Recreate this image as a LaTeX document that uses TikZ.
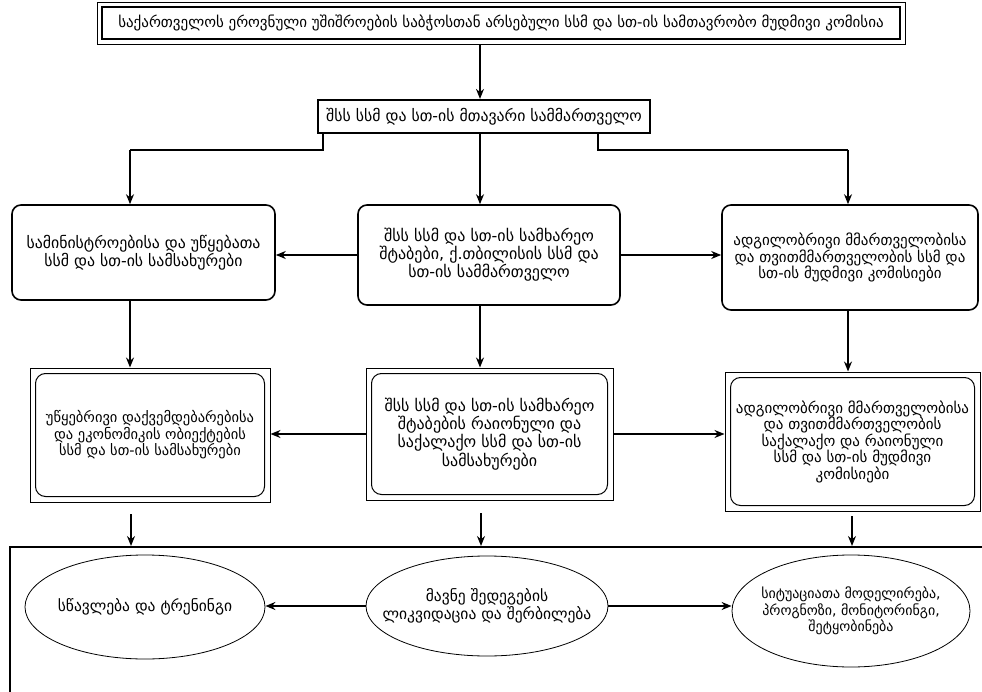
\documentclass[tikz,border=0pt]{standalone}
\usepackage{fontspec}
\setmainfont{DejaVu Sans}
\usetikzlibrary{arrows.meta,shapes.geometric,calc}
\begin{document}
\begin{tikzpicture}[x=1pt,y=-1pt,
  txt/.style={font=\fontsize{#1}{16.5}\selectfont, align=center, inner sep=0pt},
  txt/.default=16,
  arr/.style={-{Stealth[length=10pt,width=8pt]}, line width=1.5pt},
  ln/.style={line width=1.5pt},
  rbox/.style={draw, line width=1.6pt, rounded corners=9pt},
  sbox/.style={draw, line width=1pt},
  ell/.style={draw, ellipse, line width=0.8pt, inner sep=0pt}]
\useasboundingbox (0,0) rectangle (982,692);
% title
\node[draw, line width=0.8pt, minimum width=808pt, minimum height=42pt] (t) at (501,23) {};
\node[draw, line width=2pt, minimum width=798pt, minimum height=32pt, txt=15] (ti) at (501,23) {საქართველოს ეროვნული უშიშროების საბჭოსთან არსებული სსმ და სთ-ის სამთავრობო მუდმივი კომისია};
% main dept
\node[draw, line width=2.2pt, minimum width=332pt, minimum height=33pt, txt=15.8] (m) at (484,116.5) {შსს სსმ და სთ-ის მთავარი სამმართველო};
% row 1
\node[rbox, minimum width=263pt, minimum height=95pt, txt=15.8] (l1) at (143.5,252.5) {სამინისტროებისა და უწყებათა\\სსმ და სთ-ის სამსახურები};
\node[rbox, minimum width=262pt, minimum height=100pt, txt=16] (c1) at (489,255) {შსს სსმ და სთ-ის სამხარეო\\შტაბები, ქ.თბილისის სსმ და\\სთ-ის სამმართველო};
\node[rbox, minimum width=256pt, minimum height=105pt, txt=15] (r1) at (850,257.5) {ადგილობრივი მმართველობისა\\და თვითმმართველობის სსმ და\\სთ-ის მუდმივი კომისიები};
% row 2
\node[sbox, minimum width=240pt, minimum height=134pt, txt=14.5] (l2) at (150,435) {უწყებრივი დაქვემდებარებისა\\და ეკონომიკის ობიექტების\\სსმ და სთ-ის სამსახურები};
\node[sbox, minimum width=247pt, minimum height=132pt, txt=16] (c2) at (489.5,434) {შსს სსმ და სთ-ის სამხარეო\\შტაბების რაიონული და\\საქალაქო სსმ და სთ-ის\\სამსახურები};
\node[sbox, minimum width=255pt, minimum height=139pt, txt=15] (r2) at (852.5,441.5) {ადგილობრივი მმართველობისა\\და თვითმმართველობის\\საქალაქო და რაიონული\\სსმ და სთ-ის მუდმივი\\კომისიები};
\foreach \b in {l2,c2,r2}{
  \draw[line width=1pt, rounded corners=10pt] ($(\b.north west)+(6,6)$) rectangle ($(\b.south east)+(-6,-6)$);
}
% bottom frame
\draw[line width=1.2pt] (10,700) -- (10,547) -- (990,547);
\node[ell, minimum width=240pt, minimum height=104pt] (e1) at (145,607) {};
\node[txt=15.5] (e1t) at (e1) {სწავლება და ტრენინგი};
\node[ell, minimum width=242pt, minimum height=100pt] (e2) at (487,606) {};
\node[txt=15.5] (e2t) at (e2) {მავნე შედეგების\\ლიკვიდაცია და შერბილება};
\node[ell, minimum width=238pt, minimum height=112pt] (e3) at (851,611) {};
\node[txt=14] (e3t) at (e3) {სიტუაციათა მოდელირება,\\პროგნოზი, მონიტორინგი,\\შეტყობინება};
% connectors
\draw[arr] (t.south -| 480,0) -- (m.north -| 480,0);
\coordinate (ml) at (323,150);
\coordinate (mr) at (598,150);
\coordinate (lt) at (130,150);
\coordinate (rt) at (848,150);
\draw[ln] (m.south -| ml) -- (ml) -- (lt);
\draw[arr] (lt) -- (l1.north -| lt);
\draw[ln] (m.south -| mr) -- (mr) -- (rt);
\draw[arr] (rt) -- (r1.north -| rt);
\draw[arr] (m.south -| 480,0) -- (c1.north -| 480,0);
\draw[arr] (c1.west) -- (l1.east |- c1.west);
\draw[arr] (c1.east) -- (r1.west |- c1.east);
\draw[arr] (l1.south -| lt) -- (l2.north -| lt);
\draw[arr] (c1.south -| 480,0) -- (c2.north -| 480,0);
\draw[arr] (r1.south -| rt) -- (r2.north -| rt);
\draw[arr] (c2.west) -- (l2.east |- c2.west);
\draw[arr] (c2.east) -- (r2.west |- c2.east);
\coordinate (a1) at (131,514);
\coordinate (a2) at (481,513);
\coordinate (a3) at (852,516);
\draw[arr] (a1) -- (a1 |- 0,546);
\draw[arr] (a2) -- (a2 |- 0,546);
\draw[arr] (a3) -- (a3 |- 0,546);
\draw[arr] (e2.west) -- (e1.east |- e2.west);
\draw[arr] (e2.east) -- (e3.west |- e2.east);
\end{tikzpicture}
\end{document}
